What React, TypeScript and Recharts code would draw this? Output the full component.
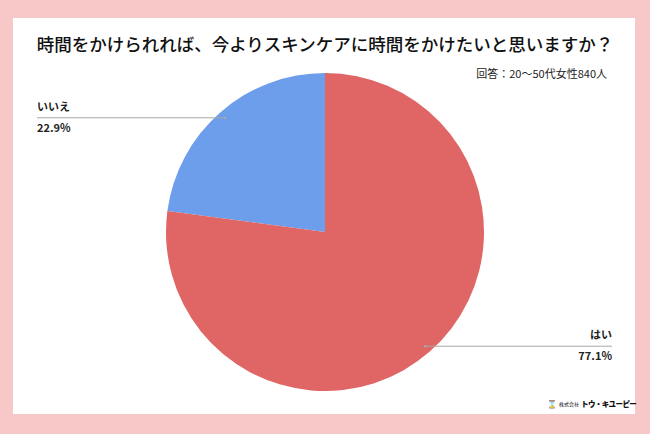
import * as React from "react";
import { PieChart, Pie, Cell } from "recharts";

const categories = ["いいえ", "はい"];
const shares = [22.9, 77.1];
const colors = ["#6d9eeb", "#e06666"];

const data = categories.map((name, i) => ({ name, value: shares[i] }));

const FONT = "'Noto Sans CJK JP', 'Noto Sans', sans-serif";
const RAD = Math.PI / 180;

const renderLabel = (props: any) => {
  const { cx, cy, midAngle, outerRadius, name, value } = props;
  const r = outerRadius * 0.955;
  const x = cx + r * Math.cos(-midAngle * RAD);
  const y = cy + r * Math.sin(-midAngle * RAD);
  const left = x < cx;
  const endX = left ? 37 : 612;
  const anchor = left ? "start" : "end";
  return (
    <g>
      <line x1={x} y1={y} x2={endX} y2={y} stroke="#a8a8a8" strokeWidth={1} />
      <circle cx={x} cy={y} r={1.2} fill="#a8a8a8" />
      <text x={endX} y={y - 7} textAnchor={anchor} fontSize={11} fontWeight={700} fill="#222" fontFamily={FONT}>
        {name}
      </text>
      <text x={endX} y={y + 14} textAnchor={anchor} fontSize={11} fontWeight={700} fill="#222" fontFamily={FONT}>
        {value.toFixed(1)}%
      </text>
    </g>
  );
};

export default function App() {
  return (
    <div style={{ position: "absolute", left: 0, top: 0, width: 650, height: 434, background: "#f8c8c9", fontFamily: FONT }}>
      <div style={{ position: "absolute", left: 13, top: 18, width: 622, height: 396, background: "#ffffff" }} />
      <div
        style={{
          position: "absolute",
          left: 0,
          top: 32,
          width: 650,
          textAlign: "center",
          fontSize: 17.5,
          fontWeight: 500,
          color: "#111",
          lineHeight: "24px",
        }}
      >
        時間をかけられれば、今よりスキンケアに時間をかけたいと思いますか？
      </div>
      <div
        style={{
          position: "absolute",
          right: 43,
          top: 65,
          fontSize: 11,
          color: "#222",
          lineHeight: "16px",
        }}
      >
        回答：20～50代女性840人
      </div>
      <div style={{ position: "absolute", left: 0, top: 0 }}>
        <PieChart width={650} height={434} margin={{ top: 0, right: 0, bottom: 0, left: 0 }}>
          <Pie
            data={data}
            dataKey="value"
            nameKey="name"
            cx={325}
            cy={232}
            outerRadius={159}
            startAngle={90}
            endAngle={450}
            stroke="none"
            label={renderLabel}
            labelLine={false}
            isAnimationActive={false}
          >
            {data.map((d, i) => (
              <Cell key={d.name} fill={colors[i]} />
            ))}
          </Pie>
        </PieChart>
      </div>
      <div
        style={{
          position: "absolute",
          left: 547,
          top: 398,
          display: "flex",
          alignItems: "center",
          gap: 2,
          color: "#111",
          lineHeight: "12px",
          whiteSpace: "nowrap",
        }}
      >
        <span style={{ fontSize: 8, fontWeight: 700 }}>⌛</span>
        <span style={{ fontSize: 5 }}>株式会社</span>
        <span style={{ fontSize: 7.5, fontWeight: 900, letterSpacing: -0.6 }}>トウ・キユーピー</span>
      </div>
    </div>
  );
}
